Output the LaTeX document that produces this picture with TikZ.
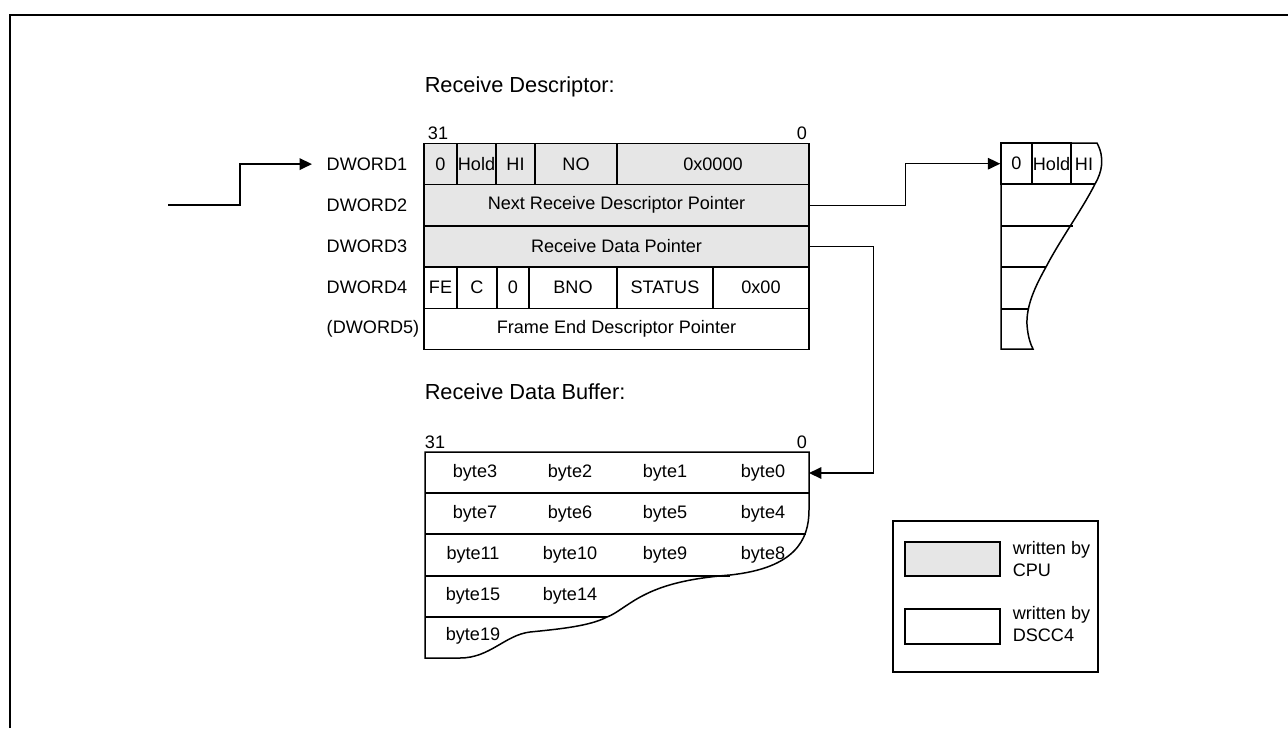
\documentclass[tikz,border=0pt]{standalone}
\usepackage{fontspec}
\setmainfont{Liberation Sans}
\usetikzlibrary{arrows.meta}
\definecolor{cpugray}{HTML}{E6E6E6}
\begin{document}
\begin{tikzpicture}[x=0.02cm,y=-0.02cm,line width=0.85pt,
  cell/.style={draw,rectangle,inner sep=0pt,minimum height=0.824cm,font=\fontsize{10.3}{12}\selectfont},
  cpu/.style={fill=cpugray},
  lbl/.style={anchor=west,inner xsep=0.28cm,inner ysep=0pt,font=\fontsize{10.3}{12}\selectfont},
  txt/.style={inner sep=0pt,font=\fontsize{10.3}{13}\selectfont},
  title/.style={anchor=west,inner sep=0pt,font=\fontsize{12.4}{15}\selectfont},
  arr/.style={-{Triangle[length=7pt,width=6.5pt]}}]
\useasboundingbox (0,0) rectangle (1288,728);
\draw[line width=1.2pt] (10,728) -- (10,15) -- (1288,15);
% receive descriptor
\node[title](tdesc) at (424,87) {Receive Descriptor:};
\node[txt](dhi) at (438,133) {31};
\node[txt](dlo) at (802,133) {0};
\node[cell,cpu,minimum width=0.66cm](d1a) at (440.5,164.1) {0};
\node[cell,cpu,minimum width=0.78cm](d1b) at (476.5,164.1) {Hold};
\node[cell,cpu,minimum width=0.78cm](d1c) at (515.5,164.1) {HI};
\node[cell,cpu,minimum width=1.64cm](d1d) at (576,164.1) {NO};
\node[cell,cpu,minimum width=3.84cm](d1e) at (713,164.1) {0x0000};
\node[cell,cpu,minimum width=7.7cm](d2) at (616.5,205.3) {Next Receive Descriptor Pointer};
\node[cell,cpu,minimum width=7.7cm](d3) at (616.5,246.5) {Receive Data Pointer};
\node[cell,minimum width=0.66cm](d4a) at (440.5,287.7) {FE};
\node[cell,minimum width=0.8cm](d4b) at (477,287.7) {C};
\node[cell,minimum width=0.64cm](d4c) at (513,287.7) {0};
\node[cell,minimum width=1.76cm](d4d) at (573,287.7) {BNO};
\node[cell,minimum width=1.92cm](d4e) at (665,287.7) {STATUS};
\node[cell,minimum width=1.92cm](d4f) at (761,287.7) {0x00};
\node[cell,minimum width=7.7cm](d5) at (616.5,328.9) {Frame End Descriptor Pointer};
\node[lbl](dw1) at (312,164.1) {DWORD1};
\node[lbl](dw2) at (312,205.3) {DWORD2};
\node[lbl](dw3) at (312,246.5) {DWORD3};
\node[lbl](dw4) at (312,287.7) {DWORD4};
\node[lbl](dw5) at (312,328.9) {(DWORD5)};
% next descriptor
\node[cell,minimum width=0.62cm](nx0) at (1016.5,163.7) {0};
\node[cell,minimum width=0.78cm](nxhold) at (1051.5,163.7) {Hold};
\node[txt](nxhi) at (1084,164) {HI};
\draw (1001,143) -- (1097,143) .. controls (1105,158) and (1102,172) .. (1095,184)
  .. controls (1083,208) and (1060,240) .. (1046,267)
  .. controls (1036,285) and (1026,305) .. (1027,325)
  .. controls (1028,338) and (1031,345) .. (1033,349) -- (1001,349) -- cycle;
\draw (1001,184) -- (1095,184);
\draw (1001,226) -- (1073,226);
\draw (1001,267) -- (1046,267);
\draw (1001,309) -- (1029,309);
% receive data buffer
\node[title](tbuf) at (424,392) {Receive Data Buffer:};
\node[txt](bhi) at (435,442) {31};
\node[txt](blo) at (802,442) {0};
\draw (425,452) -- (809,452) -- (809,510) .. controls (809,540) and (795,568) .. (730,575)
  .. controls (680,579) and (655,588) .. (635,600)
  .. controls (622,608) and (615,614) .. (607,617)
  .. controls (590,626) and (560,629) .. (530,632)
  .. controls (505,635) and (490,658) .. (460,658) -- (425,658) -- cycle;
\draw (425,493) -- (809,493);
\draw (425,534) -- (806,534);
\draw (425,576) -- (730,576);
\draw (425,617) -- (607,617);
\coordinate (bufin) at (809,473);
\node[txt](b3) at (475,473) {byte3};
\node[txt](b2) at (570,473) {byte2};
\node[txt](b1) at (665,473) {byte1};
\node[txt](b0) at (763,473) {byte0};
\node[txt](b7) at (475,514) {byte7};
\node[txt](b6) at (570,514) {byte6};
\node[txt](b5) at (665,514) {byte5};
\node[txt](b4) at (763,514) {byte4};
\node[txt](b11) at (473,555) {byte11};
\node[txt](b10) at (570,555) {byte10};
\node[txt](b9) at (665,555) {byte9};
\node[txt](b8) at (763,555) {byte8};
\node[txt](b15) at (473,596) {byte15};
\node[txt](b14) at (570,596) {byte14};
\node[txt](b19) at (473,636) {byte19};
% legend
\node[draw,minimum width=4.1cm,minimum height=3.02cm](leg) at (995.5,596.5) {};
\node[draw,fill=cpugray,minimum width=1.9cm,minimum height=0.68cm](lcpu) at (952.5,559) {};
\node[draw,minimum width=1.9cm,minimum height=0.7cm](ldscc) at (952.5,626.5) {};
\node[txt,anchor=west,align=left](tcpu) at (1012,559) {written by\\CPU};
\node[txt,anchor=west,align=left](tdscc) at (1012,624) {written by\\DSCC4};
% connectors
\coordinate (in) at (168,205);
\draw[arr] (in) -- ++(72,0) |- (dw1.west);
\draw[arr] (d2.east) -- ++(96,0) |- (nx0.west);
\draw[arr] (d3.east) -- ++(64,0) |- (bufin);
\end{tikzpicture}
\end{document}
